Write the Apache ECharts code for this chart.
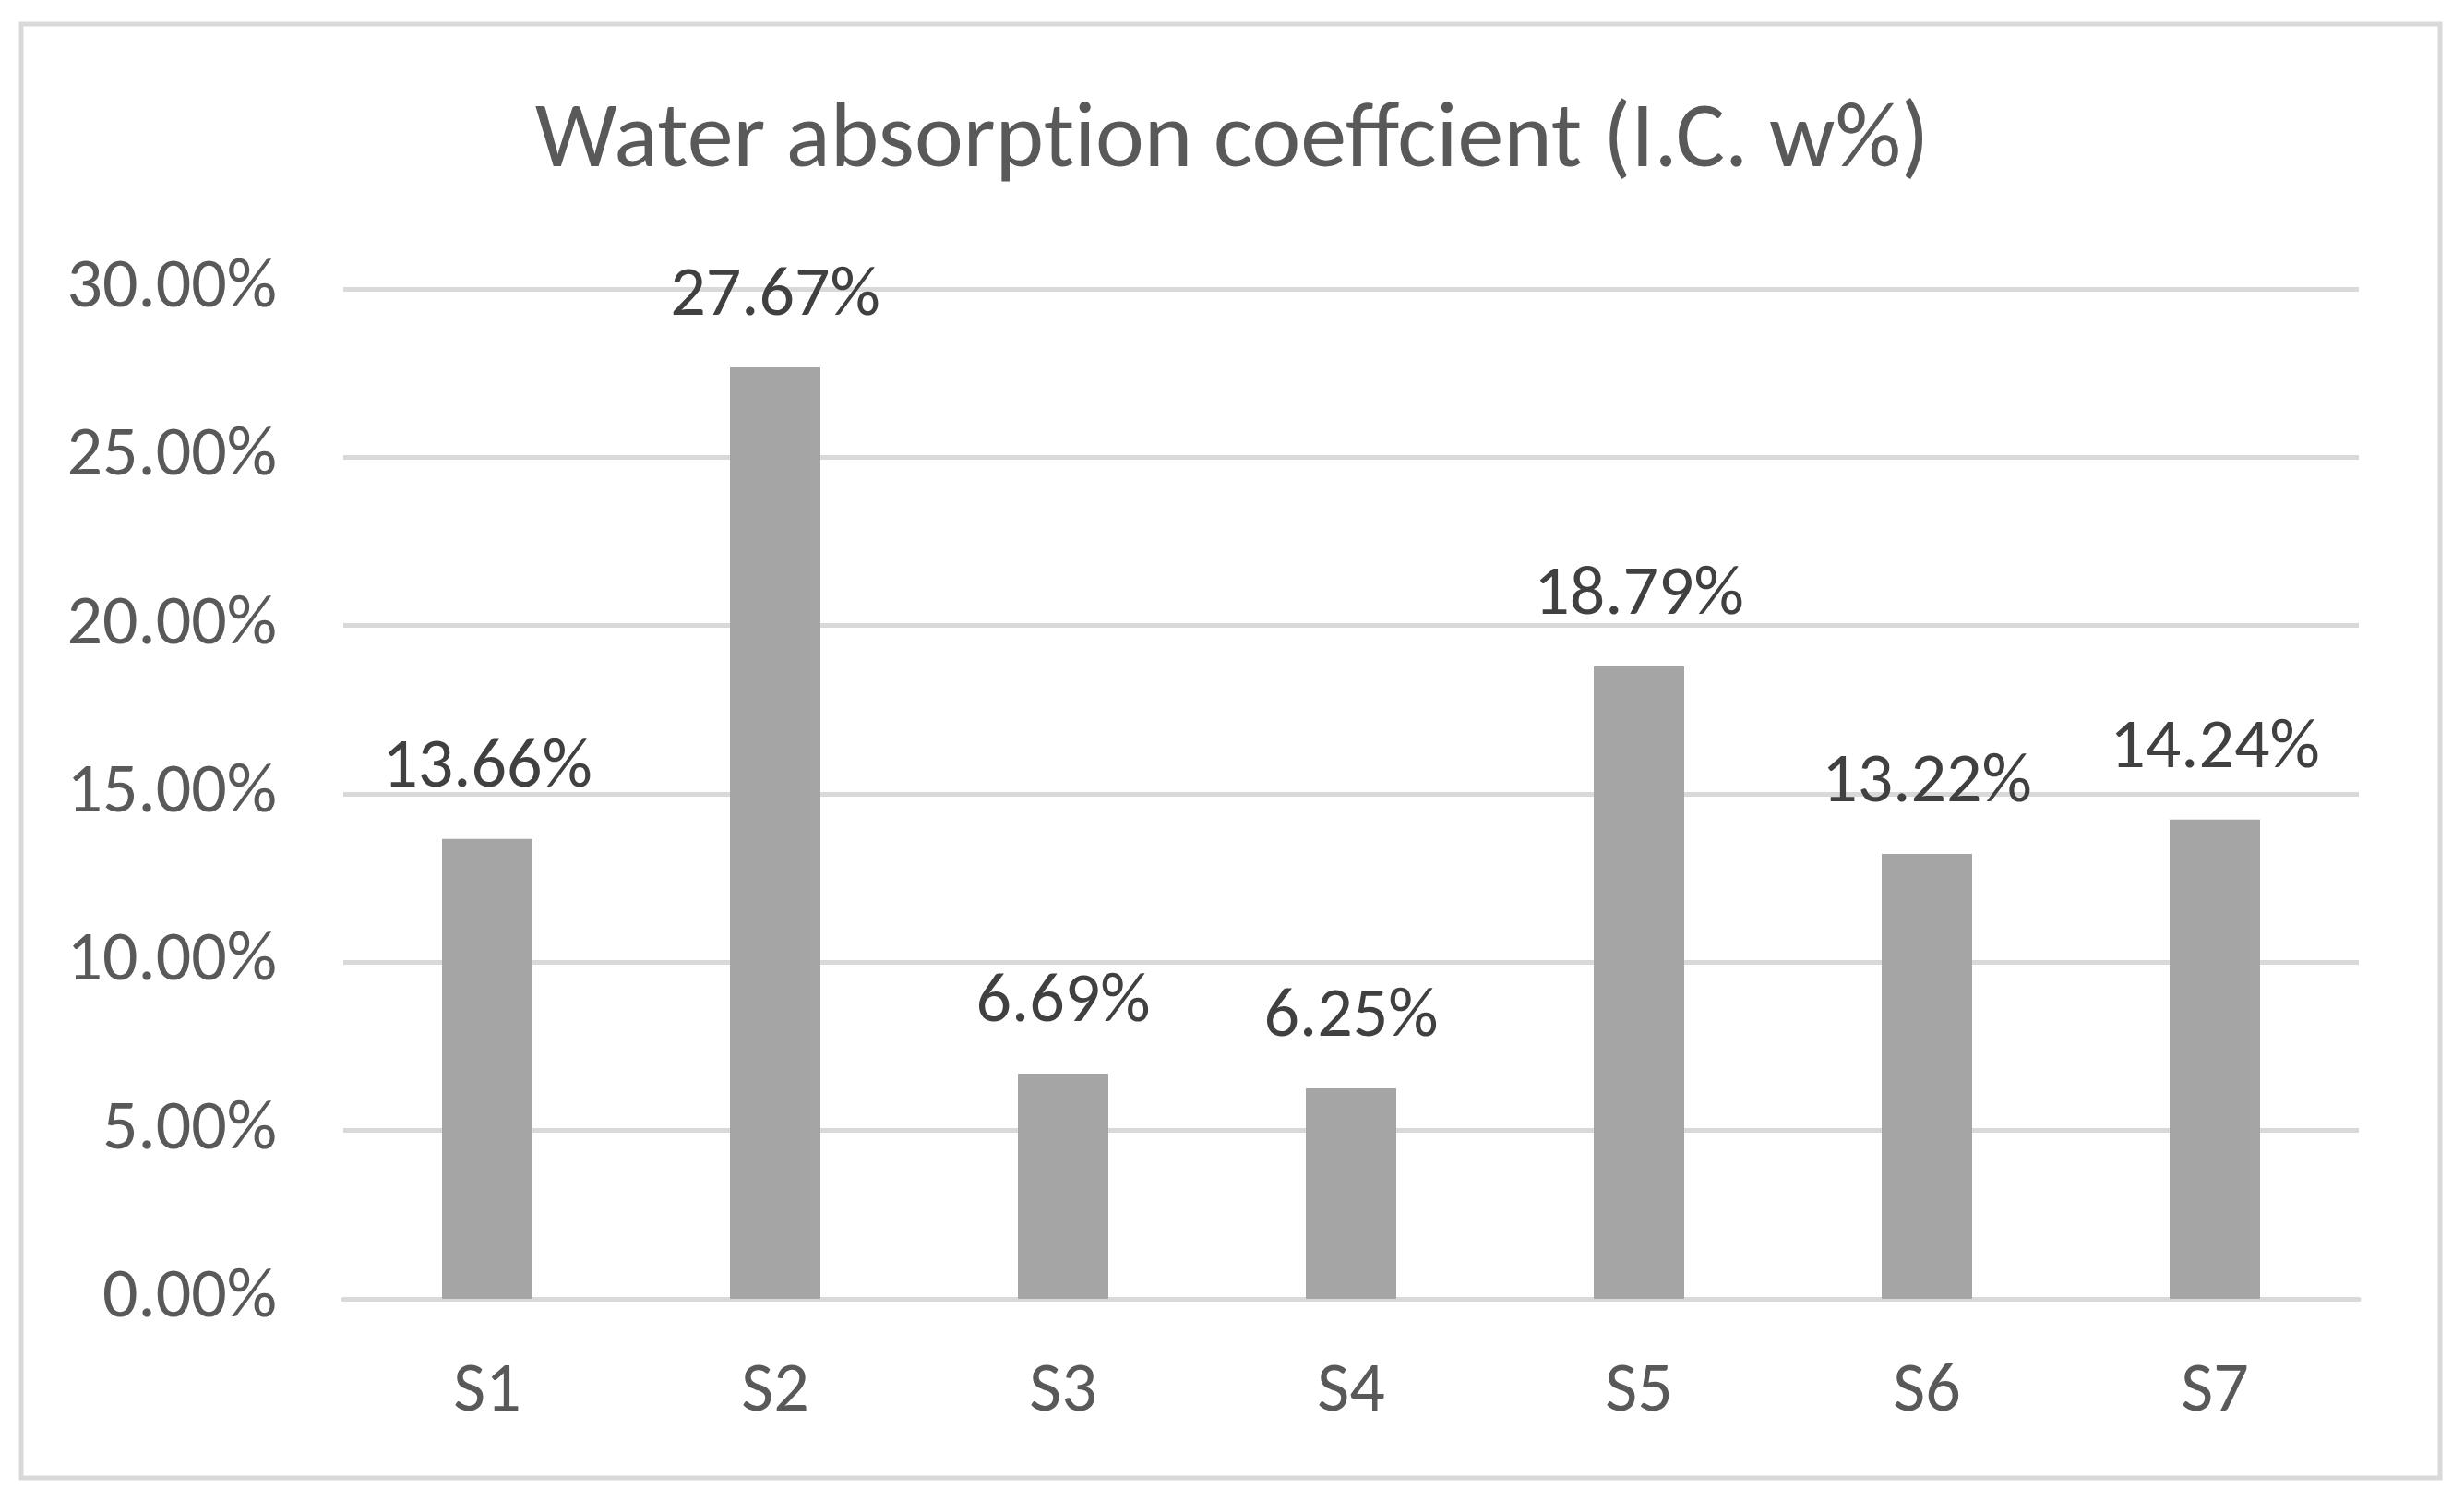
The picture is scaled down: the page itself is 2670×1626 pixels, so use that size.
<!DOCTYPE html>
<html>
<head>
<meta charset="utf-8">
<script src="https://cdn.jsdelivr.net/npm/echarts@6/dist/echarts.min.js"></script>
<style>
html,body{margin:0;padding:0;background:#fff;}
#c{width:2670px;height:1626px;}
</style>
</head>
<body>
<div id="c"></div>
<script>
const categories = ['S1','S2','S3','S4','S5','S6','S7'];
const values = [13.66, 27.67, 6.69, 6.25, 18.79, 13.22, 14.24];
const titleParts = ['Water absorpt', 'ion coeffc', 'ient (I.C. w%)'];
const yMin = 0, yMax = 30, yInterval = 5;

const FONT = "Carlito, 'Liberation Sans Narrow', 'Open Sans', sans-serif";
const titleStyle = {fontFamily: FONT, fontSize: 100, fontWeight: 'normal', color: '#595959'};
const chart = echarts.init(document.getElementById('c'));
chart.setOption({
  backgroundColor: '#ffffff',
  animation: false,
  title: {
    text: titleParts.map(s => '{a|' + s + '}').join(''),
    left: 'center',
    top: 100,
    textStyle: Object.assign({rich: {a: titleStyle}}, titleStyle)
  },
  graphic: [{
    type: 'rect',
    shape: {x: 23, y: 26, width: 2621, height: 1575},
    style: {fill: 'none', stroke: '#d9d9d9', lineWidth: 5},
    silent: true
  }],
  grid: {left: 372, right: 114, top: 313, bottom: 219},
  xAxis: {
    type: 'category',
    data: categories,
    axisLine: {show: true, lineStyle: {color: '#d9d9d9', width: 5}},
    axisTick: {show: false},
    axisLabel: {fontFamily: FONT, fontSize: 76, color: '#595959', margin: 64}
  },
  yAxis: {
    type: 'value',
    min: yMin, max: yMax, interval: yInterval,
    axisLine: {show: false},
    axisTick: {show: false},
    splitLine: {lineStyle: {color: '#d9d9d9', width: 5}},
    axisLabel: {
      fontFamily: FONT, fontSize: 76, color: '#595959', margin: 72,
      formatter: v => v.toFixed(2) + '%'
    }
  },
  series: [{
    type: 'bar',
    data: values,
    barWidth: 98,
    itemStyle: {color: '#a5a5a5'},
    label: {
      show: true, position: 'top', distance: 38,
      fontFamily: FONT, fontSize: 76, color: '#404040',
      formatter: p => p.value.toFixed(2) + '%'
    }
  }]
});
</script>
</body>
</html>
